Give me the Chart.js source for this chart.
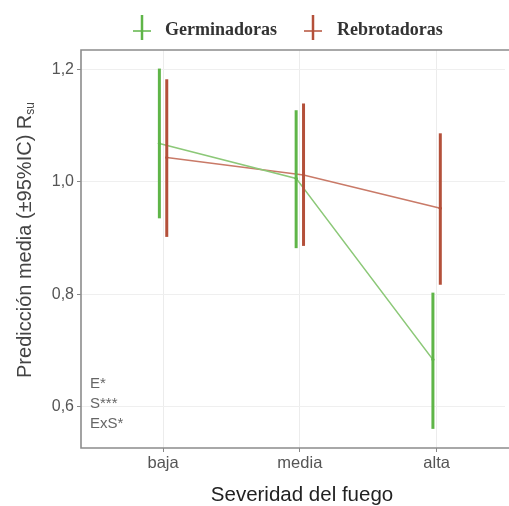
<!DOCTYPE html>
<html>
<head>
<meta charset="utf-8">
<script src="https://cdn.jsdelivr.net/npm/chart.js@4.4.0/dist/chart.umd.min.js"></script>
<style>
  html, body { margin: 0; padding: 0; background: #fff; overflow: hidden; }
</style>
</head>
<body>
<canvas id="c" width="509" height="506"></canvas>
<script>
const categorias = ["baja", "media", "alta"];
const series = ["Germinadoras", "Rebrotadoras"];
const germMedia = [1.068, 1.006, 0.684];
const germInf = [0.935, 0.882, 0.561];
const germSup = [1.201, 1.127, 0.803];
const rebMedia = [1.043, 1.012, 0.953];
const rebInf = [0.902, 0.886, 0.817];
const rebSup = [1.182, 1.139, 1.086];
const yTicks = [0.6, 0.8, 1.0, 1.2];
const anotaciones = ["E*", "S***", "ExS*"];

const verde = '#5fb548';
const verdeLinea = '#8cc878';
const rojo = '#b4503a';
const rojoLinea = '#c97a68';
const dodge = 0.027;
const sans = '"Liberation Sans", Arial, sans-serif';

const pts = (vals, d) => vals.map((v, i) => ({ x: i + d, y: v }));

const errorBars = {
  id: 'errorBars',
  afterDatasetsDraw(chart) {
    const { ctx, scales: { x, y } } = chart;
    const grupos = [
      { inf: germInf, sup: germSup, d: -dodge, col: verde },
      { inf: rebInf, sup: rebSup, d: dodge, col: rojo }
    ];
    ctx.save();
    ctx.lineWidth = 3;
    grupos.forEach(g => {
      ctx.strokeStyle = g.col;
      g.inf.forEach((lo, i) => {
        const px = x.getPixelForValue(i + g.d);
        ctx.beginPath();
        ctx.moveTo(px, y.getPixelForValue(lo));
        ctx.lineTo(px, y.getPixelForValue(g.sup[i]));
        ctx.stroke();
      });
    });
    ctx.restore();
  }
};

const marco = {
  id: 'marco',
  afterDraw(chart) {
    const { ctx, chartArea: a } = chart;
    ctx.save();
    // panel border (right side falls outside the picture)
    ctx.strokeStyle = '#8c8c8c';
    ctx.lineWidth = 1.6;
    ctx.beginPath();
    ctx.moveTo(chart.width + 5, a.top);
    ctx.lineTo(a.left, a.top);
    ctx.lineTo(a.left, a.bottom);
    ctx.lineTo(chart.width + 5, a.bottom);
    ctx.stroke();

    // annotations
    ctx.fillStyle = '#666';
    ctx.font = '15px ' + sans;
    ctx.textBaseline = 'middle';
    anotaciones.forEach((t, i) => ctx.fillText(t, a.left + 9, 384 + i * 20));

    // axis titles
    ctx.fillStyle = '#222';
    ctx.font = '20.5px ' + sans;
    ctx.textAlign = 'center';
    ctx.fillText('Severidad del fuego', 302, 495);

    ctx.save();
    ctx.translate(25, 240);
    ctx.rotate(-Math.PI / 2);
    ctx.fillStyle = '#444';
    const main = 'Predicción media (±95%IC) R';
    ctx.font = '20px ' + sans;
    const wMain = ctx.measureText(main).width;
    ctx.font = '12px ' + sans;
    const wSub = ctx.measureText('su').width;
    const start = -(wMain + wSub) / 2;
    ctx.textAlign = 'left';
    ctx.font = '20px ' + sans;
    ctx.fillText(main, start, 0);
    ctx.font = '12px ' + sans;
    ctx.fillText('su', start + wMain, 6);
    ctx.restore();

    // legend
    const items = [
      { t: series[0], c: verde, gx: 142, tx: 165 },
      { t: series[1], c: rojo, gx: 313, tx: 337 }
    ];
    ctx.font = 'bold 18px "Liberation Serif", "Times New Roman", serif';
    ctx.textAlign = 'left';
    items.forEach(it => {
      ctx.strokeStyle = it.c;
      ctx.lineWidth = 2.5;
      ctx.beginPath();
      ctx.moveTo(it.gx, 15); ctx.lineTo(it.gx, 40);
      ctx.stroke();
      ctx.lineWidth = 1.5;
      ctx.beginPath();
      ctx.moveTo(it.gx - 9, 31); ctx.lineTo(it.gx + 9, 31);
      ctx.stroke();
      ctx.fillStyle = '#333';
      ctx.fillText(it.t, it.tx, 30);
    });
    ctx.restore();
  }
};

new Chart(document.getElementById('c'), {
  type: 'line',
  data: {
    datasets: [
      { label: series[0], data: pts(germMedia, -dodge), borderColor: verdeLinea, backgroundColor: verde,
        borderWidth: 1.6, pointRadius: 1.6, pointBorderWidth: 0, tension: 0 },
      { label: series[1], data: pts(rebMedia, dodge), borderColor: rojoLinea, backgroundColor: rojo,
        borderWidth: 1.6, pointRadius: 1.6, pointBorderWidth: 0, tension: 0 }
    ]
  },
  options: {
    responsive: false,
    animation: false,
    layout: { padding: { top: 50, left: 0, right: 0, bottom: 0 } },
    plugins: { legend: { display: false }, tooltip: { enabled: false } },
    scales: {
      x: {
        type: 'linear', min: -0.6, max: 2.5,
        afterBuildTicks: s => { s.ticks = categorias.map((c, i) => ({ value: i })); },
        afterFit: s => { s.height = 58; s.paddingLeft = 0; s.paddingRight = 0; },
        ticks: {
          callback: v => categorias[v] ?? '',
          color: '#555', font: { family: sans, size: 16.5 }, padding: 2
        },
        grid: { color: '#ececec', lineWidth: 1, tickColor: '#888', tickLength: 4 },
        border: { display: false }
      },
      y: {
        min: 0.527, max: 1.234,
        afterBuildTicks: s => { s.ticks = yTicks.map(v => ({ value: v })); },
        afterFit: s => { s.width = 81; s.paddingTop = 0; s.paddingBottom = 0; },
        ticks: {
          callback: v => v.toFixed(1).replace('.', ','),
          color: '#555', font: { family: sans, size: 16 }, padding: 3
        },
        grid: { color: '#efefef', lineWidth: 1, tickColor: '#888', tickLength: 4 },
        border: { display: false }
      }
    }
  },
  plugins: [errorBars, marco]
});
</script>
</body>
</html>
